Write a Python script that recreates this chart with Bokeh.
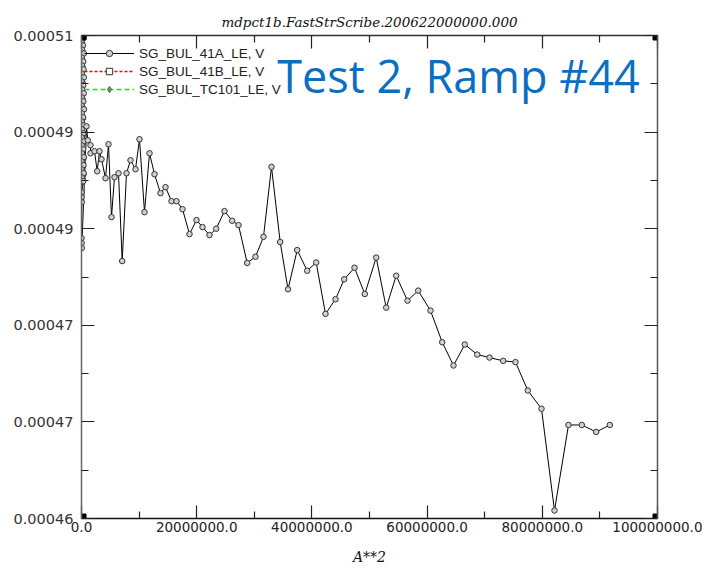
from bokeh.plotting import figure
from bokeh.models import (Range1d, LinearAxis, FixedTicker, CustomJSTickFormatter,
                          Legend, LegendItem, Label, ColumnDataSource)
from bokeh.embed import file_html
from bokeh.resources import INLINE

# ---- data (A**2 vs strain gauge, V) ----
a2 = [0, 20000, 60000, 10000, 120000, 30000, 80000, 0, 150000, 40000,
      90000, 10000, 170000, 50000, 100000, 0, 140000, 60000, 110000, 170000,
      20000, 250000, 30000, 160000, 80000, 300000, 20000, 190000, 330000, 90000,
      160000, 340000, 30000, 250000, 110000, 350000, 180000, 40000,
      380000, 0, 260000, 40000, 420000, 10000, 300000, 60000, 360000, 20000,
      410000, 0, 280000, 70000, 390000, 30000, 320000, 0, 430000, 50000,
      270000, 10000, 400000, 80000, 340000, 0, 440000, 30000, 300000, 60000,
      410000, 20000, 350000, 0, 380000, 20000, 300000,
      30000, 20000, 40000, 10000, 30000, 50000,
      868000, 1094000, 1563000, 1563000, 2257000, 2726000, 3125000, 3472000, 4167000, 4688000,
      5208000, 5729000, 6424000, 7066000, 7813000, 8507000, 9375000, 10069000, 10938000, 11806000,
      12674000, 13715000, 14583000, 15625000, 16493000, 17535000, 18750000, 19965000, 21007000, 22222000,
      23385000, 24826000, 26163000, 27257000, 28767000, 30208000, 31597000, 32986000, 34497000, 35851000,
      37448000, 39184000, 40747000, 42361000, 44097000, 45608000, 47396000, 49184000, 51163000, 52899000,
      54635000, 56597000, 58455000, 60590000, 62622000, 64583000, 66545000, 68698000, 70833000, 73212000,
      75347000, 77483000, 79861000, 82118000, 84549000, 86858000, 89358000, 91719000]
sg_41a = [0.00051000, 0.00050969, 0.00050928, 0.00050886, 0.00050845, 0.00050804, 0.00050762, 0.00050721, 0.00050680, 0.00050638,
          0.00050597, 0.00050556, 0.00050514, 0.00050473, 0.00050432, 0.00050390, 0.00050349, 0.00050308, 0.00050267, 0.00050225,
          0.00050184, 0.00050143, 0.00050101, 0.00050060, 0.00050019, 0.00049977, 0.00049936, 0.00049895, 0.00049853, 0.00049812,
          0.00049771, 0.00049729, 0.00049688, 0.00049647, 0.00049605, 0.00049564, 0.00049523, 0.00049481,
          0.00050979, 0.00050938, 0.00050897, 0.00050855, 0.00050814, 0.00050773, 0.00050731, 0.00050690, 0.00050649, 0.00050607,
          0.00050566, 0.00050525, 0.00050483, 0.00050442, 0.00050401, 0.00050360, 0.00050318, 0.00050277, 0.00050236, 0.00050194,
          0.00050153, 0.00050112, 0.00050070, 0.00050029, 0.00049988, 0.00049946, 0.00049905, 0.00049864, 0.00049822, 0.00049781,
          0.00049740, 0.00049698, 0.00049657, 0.00049616, 0.00049574, 0.00049533, 0.00049492,
          0.00049378, 0.00049326, 0.00049275, 0.00048903, 0.00048851, 0.00048800,
          0.00050060, 0.00049915, 0.00049864, 0.00049781, 0.00049802, 0.00049595, 0.00049802, 0.00049719, 0.00049523, 0.00049874,
          0.00049120, 0.00049533, 0.00049574, 0.00048665, 0.00049574, 0.00049709, 0.00049616, 0.00049926, 0.00049171, 0.00049781,
          0.00049564, 0.00049368, 0.00049430, 0.00049285, 0.00049285, 0.00049202, 0.00048944, 0.00049089, 0.00049017, 0.00048934,
          0.00049000, 0.00049182, 0.00049082, 0.00049037, 0.00048645, 0.00048710, 0.00048916, 0.00049640, 0.00048862, 0.00048373,
          0.00048779, 0.00048565, 0.00048650, 0.00048118, 0.00048270, 0.00048476, 0.00048596, 0.00048324, 0.00048701, 0.00048183,
          0.00048513, 0.00048255, 0.00048359, 0.00048152, 0.00047825, 0.00047584, 0.00047801, 0.00047697, 0.00047666, 0.00047632,
          0.00047619, 0.00047325, 0.00047136, 0.00046083, 0.00046968, 0.00046968, 0.00046896, 0.00046968]

series_names = ["SG_BUL_41A_LE, V", "SG_BUL_41B_LE, V", "SG_BUL_TC101_LE, V"]

x_ticks = [0, 20000000, 40000000, 60000000, 80000000, 100000000]
x_minor = [10000000, 30000000, 50000000, 70000000, 90000000]
x_tick_labels = ["0.0", "20000000.0", "40000000.0", "60000000.0", "80000000.0", "100000000.0"]
y_ticks = [0.00046, 0.00047, 0.00048, 0.00049, 0.00050, 0.00051]
y_minor = [0.000465, 0.000475, 0.000485, 0.000495, 0.000505]
y_tick_labels = ["0.00046", "0.00047", "0.00047", "0.00049", "0.00049", "0.00051"]

title_text = "mdpct1b.FastStrScribe.200622000000.000"
x_label_text = "A**2"
note_text = "Test 2, Ramp #44"

x0, x1 = 0, 100000000
y0, y1 = 0.00046, 0.00051
nan = float("nan")

p = figure(width=702, height=567, output_backend="svg", toolbar_location=None,
           x_range=Range1d(x0, x1), y_range=Range1d(y0, y1),
           x_axis_location=None, y_axis_location=None,
           min_border_left=81, min_border_right=45, min_border_top=35, min_border_bottom=48)
p.xgrid.visible = False
p.ygrid.visible = False
p.outline_line_color = None
p.background_fill_color = "white"
p.border_fill_color = "white"

def fmt(tv, lb):
    return CustomJSTickFormatter(args=dict(tv=tv, lb=lb), code="""
        let best = 0;
        for (let i = 0; i < tv.length; i++) {
            if (Math.abs(tv[i] - tick) < Math.abs(tv[best] - tick)) best = i;
        }
        return lb[best];
    """)

blank_fmt = CustomJSTickFormatter(code='return "";')

TICK_FONT = "DejaVu Sans"

def style_axis(ax, show_labels, size="14px", line_color="#333333"):
    ax.axis_line_color = line_color
    ax.axis_line_width = 1.5
    ax.major_tick_in = 13
    ax.major_tick_out = 0
    ax.minor_tick_in = 7
    ax.minor_tick_out = 0
    ax.major_tick_line_color = "#222222"
    ax.minor_tick_line_color = "#222222"
    ax.major_tick_line_width = 1.2
    ax.minor_tick_line_width = 1.2
    ax.major_label_text_font = TICK_FONT
    ax.major_label_text_font_size = size if show_labels else "1px"
    ax.major_label_text_color = "#222222"
    if not show_labels:
        ax.major_label_standoff = 0

xt = FixedTicker(ticks=x_ticks, minor_ticks=x_minor)
yt = FixedTicker(ticks=y_ticks, minor_ticks=y_minor)

bottom = LinearAxis(ticker=xt, formatter=fmt(x_ticks, x_tick_labels))
style_axis(bottom, True, "13.5px", "#111111")
bottom.major_label_standoff = 3
bottom.axis_label = x_label_text
bottom.axis_label_text_font = "DejaVu Serif"
bottom.axis_label_text_font_style = "italic"
bottom.axis_label_text_font_size = "14px"
bottom.axis_label_text_color = "#111111"
bottom.axis_label_standoff = 14

left = LinearAxis(ticker=yt, formatter=fmt(y_ticks, y_tick_labels))
style_axis(left, True, "14.5px", "#666666")
left.major_label_standoff = 8
left.major_label_text_color = "#333333"

top = LinearAxis(ticker=FixedTicker(ticks=x_ticks, minor_ticks=x_minor), formatter=blank_fmt)
style_axis(top, False)
top.axis_label = title_text
top.axis_label_text_font = "DejaVu Serif"
top.axis_label_text_font_style = "italic"
top.axis_label_text_font_size = "13.5px"
top.axis_label_text_color = "#111111"
top.axis_label_standoff = 6

right = LinearAxis(ticker=FixedTicker(ticks=y_ticks, minor_ticks=y_minor), formatter=blank_fmt)
style_axis(right, False, line_color="#555555")

p.add_layout(bottom, "below")
p.add_layout(left, "left")
p.add_layout(top, "above")
p.add_layout(right, "right")

src = ColumnDataSource(dict(x=a2, y=sg_41a))
l_a = p.line(x="x", y="y", source=src, line_color="black", line_width=1)
s_a = p.scatter(x="x", y="y", source=src, marker="circle", size=5.5,
                fill_color="#d0d0d0", line_color="#333333", line_width=1)
l_b = p.line(x=[nan], y=[nan], line_color="#ff0000", line_dash="3 2", line_width=1.3)
s_b = p.scatter(x=[nan], y=[nan], marker="square", size=6, fill_color="white", line_color="#333333")
l_c = p.line(x=[nan], y=[nan], line_color="#00ee00", line_dash="5 3", line_width=1.3)
s_c = p.scatter(x=[nan], y=[nan], marker="diamond", size=8, fill_color="#44aa55", line_color="#666666")

# corner markers
p.scatter(x=[x0, x1, x0, x1], y=[y0, y0, y1, y1], marker="square", size=9,
          fill_color="black", line_color="black")

legend = Legend(items=[LegendItem(label=series_names[0], renderers=[l_a, s_a]),
                       LegendItem(label=series_names[1], renderers=[l_b, s_b]),
                       LegendItem(label=series_names[2], renderers=[l_c, s_c])],
                location=(-2, 416), orientation="vertical",
                glyph_width=50, glyph_height=16, label_height=16, spacing=2,
                padding=5, margin=0, label_standoff=5,
                label_text_font="Liberation Sans", label_text_font_size="13.5px",
                label_text_color="#222222",
                background_fill_alpha=0, border_line_alpha=0)
p.add_layout(legend)

p.add_layout(Label(x=377, y=443, x_units="screen", y_units="screen", text=note_text,
                   text_font="Open Sans", text_font_size="45px",
                   text_align="center", text_baseline="alphabetic", text_color="#0b6fc1"))

open("out.html", "w").write(file_html(p, INLINE))
